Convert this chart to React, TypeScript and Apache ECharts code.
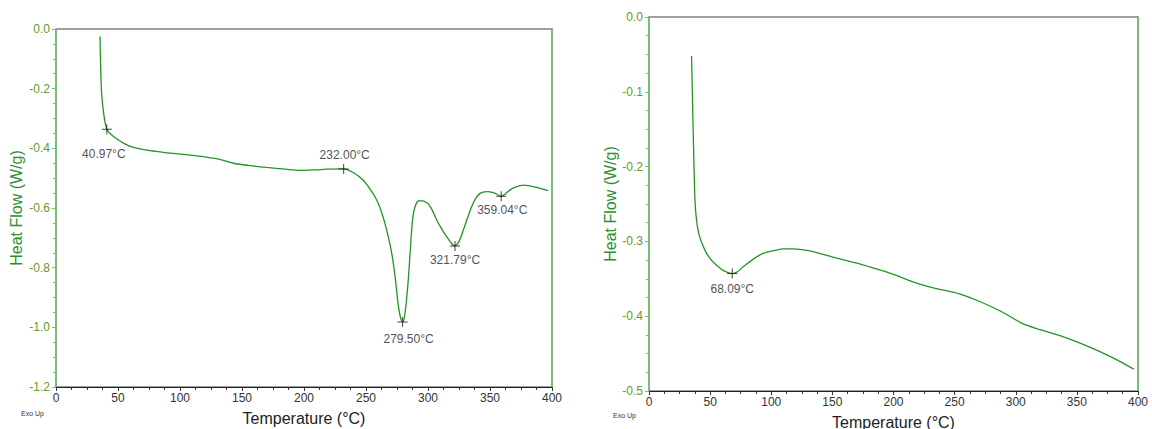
import React, { useEffect, useRef } from "react";
import * as echarts from "echarts";

// ---- Data ----
const leftCurve: [number, number][] = [
  [35.5, -0.025], [36.0, -0.126], [36.8, -0.216], [38.1, -0.271], [39.5, -0.311], [41.0, -0.336],
  [44, -0.352], [48.9, -0.368], [55, -0.384], [62.4, -0.397], [75.8, -0.408], [90, -0.415],
  [102.7, -0.42], [115, -0.426], [126.9, -0.433], [135, -0.44], [143, -0.45], [155, -0.457],
  [169.9, -0.464], [185, -0.47], [196.8, -0.474], [210, -0.472], [218.3, -0.47], [232, -0.469],
  [240, -0.482], [247.6, -0.506], [253, -0.535], [258.6, -0.573], [263, -0.62], [266.7, -0.674],
  [270, -0.735], [272, -0.784], [274, -0.85], [276, -0.925], [278, -0.97], [279.7, -0.982],
  [281, -0.965], [282.5, -0.915], [284.1, -0.841], [285.5, -0.755], [286.8, -0.674], [288, -0.625],
  [289.5, -0.596], [291.5, -0.579], [293.5, -0.575], [296.5, -0.577], [300.3, -0.586], [303.5, -0.608],
  [307, -0.64], [311, -0.67], [315, -0.696], [318.5, -0.716], [321.8, -0.727], [325, -0.712],
  [328.5, -0.674], [332, -0.632], [335.2, -0.596], [338.5, -0.568], [342, -0.551], [345.5, -0.546],
  [348.6, -0.545], [352, -0.548], [355.4, -0.553], [359.0, -0.561], [362.5, -0.552], [366, -0.54],
  [371, -0.529], [376.9, -0.523], [382, -0.526], [387.6, -0.531], [392, -0.536], [397, -0.542],
];

const rightCurve: [number, number][] = [
  [34.8, -0.052], [36.2, -0.156], [37.6, -0.245], [38.9, -0.272], [40.5, -0.288], [42.2, -0.298],
  [44.5, -0.307], [47.1, -0.316], [51, -0.325], [55.3, -0.332], [61, -0.339], [68.1, -0.343],
  [72, -0.341], [77, -0.334], [85, -0.324], [93.3, -0.316], [103, -0.312], [110, -0.31],
  [117.8, -0.31], [125, -0.311], [135, -0.314], [150.4, -0.321], [172.2, -0.33], [188.6, -0.338],
  [200, -0.344], [215.8, -0.354], [230, -0.361], [253.9, -0.37], [270, -0.38], [281, -0.388],
  [293, -0.398], [305.6, -0.41], [320, -0.418], [335.5, -0.4255], [348, -0.433], [360, -0.441],
  [375, -0.452], [387, -0.462], [396.7, -0.471],
];

const leftPeakTemps = [40.97, 232.0, 279.5, 321.79, 359.04];
const leftPeakValues = [-0.336, -0.469, -0.982, -0.727, -0.561];
const rightPeakTemps = [68.09];
const rightPeakValues = [-0.343];

const xTicks = { min: 0, max: 400, interval: 50 };
const leftYTicks = { min: -1.2, max: 0, interval: 0.2 };
const rightYTicks = { min: -0.5, max: 0, interval: 0.1 };

const xAxisTitle = "Temperature (°C)";
const yAxisTitle = "Heat Flow (W/g)";
const cornerNote = "Exo Up";

// ---- Styling / layout ----
const leftLabelOffsets: [number, number][] = [[-3, 25], [1, -14], [6, 17], [0, 14], [1, 14]];
const rightLabelOffsets: [number, number][] = [[0, 15]];

const FONT = "Liberation Sans, Arial, sans-serif";
const LINE_GREEN = "#219621";
const AXIS_GREEN = "#6cc46c";
const TICK_LABEL_GREEN = "#5f9a2a";
const NAME_GREEN = "#2d8f2d";
const CROSS = "path://M0 4.5H10V5.5H0Z M4.5 0H5.5V10H4.5Z";

function xAxisMain(grid: number) {
  return {
    type: "value",
    gridIndex: grid,
    min: xTicks.min,
    max: xTicks.max,
    interval: xTicks.interval,
    name: xAxisTitle,
    nameLocation: "middle",
    nameGap: 23,
    nameTextStyle: { fontSize: 16, color: "#222", fontFamily: FONT },
    axisLine: { show: true, onZero: false, lineStyle: { color: "#222", width: 1 } },
    axisTick: { show: true, length: 4, lineStyle: { color: "#333" } },
    minorTick: { show: true, splitNumber: 4, length: 3, lineStyle: { color: "#333" } },
    axisLabel: { color: "#333", fontSize: 12, fontFamily: FONT, margin: 5 },
    splitLine: { show: false },
  };
}

function yAxisMain(grid: number, t: { min: number; max: number; interval: number }, gap: number) {
  return {
    type: "value",
    gridIndex: grid,
    min: t.min,
    max: t.max,
    interval: t.interval,
    name: yAxisTitle,
    nameLocation: "middle",
    nameGap: gap,
    nameTextStyle: { fontSize: 16, color: NAME_GREEN, fontFamily: FONT },
    axisLine: { show: true, onZero: false, lineStyle: { color: AXIS_GREEN, width: 1.5 } },
    axisTick: { show: true, length: 4, lineStyle: { color: AXIS_GREEN } },
    minorTick: { show: true, splitNumber: 4, length: 3, lineStyle: { color: AXIS_GREEN } },
    axisLabel: {
      color: TICK_LABEL_GREEN,
      fontSize: 12,
      fontFamily: FONT,
      margin: 6,
      formatter: (v: number) => v.toFixed(1),
    },
    splitLine: { show: false },
  };
}

function yAxisRight(grid: number, t: { min: number; max: number }) {
  return {
    type: "value",
    gridIndex: grid,
    position: "right",
    min: t.min,
    max: t.max,
    axisLine: { show: true, onZero: false, lineStyle: { color: AXIS_GREEN, width: 1.5 } },
    axisTick: { show: false },
    axisLabel: { show: false },
    splitLine: { show: false },
  };
}

function peakSeries(
  temps: number[],
  values: number[],
  offsets: [number, number][],
  xi: number,
  yi: number
) {
  return {
    type: "scatter",
    xAxisIndex: xi,
    yAxisIndex: yi,
    symbol: CROSS,
    symbolSize: 10,
    itemStyle: { color: "#111" },
    z: 5,
    data: temps.map((t, i) => ({
      value: [t, values[i]],
      label: {
        show: true,
        position: "inside",
        offset: offsets[i],
        formatter: `${t.toFixed(2)}°C`,
        color: "#222",
        fontSize: 12,
        fontFamily: FONT,
      },
    })),
  };
}

export default function App() {
  const ref = useRef<HTMLDivElement>(null);
  useEffect(() => {
    if (!ref.current) return;
    const chart = echarts.init(ref.current, undefined, { renderer: "svg" });
    const gridCommon = {
      show: true,
      borderColor: "#808080",
      borderWidth: 1.5,
      backgroundColor: "transparent",
      outerBoundsMode: "none",
      containLabel: false,
    };
    chart.setOption({
      animation: false,
      backgroundColor: "#fff",
      grid: [
        { ...gridCommon, left: 56, top: 29, width: 496, height: 358 },
        { ...gridCommon, left: 649, top: 17, width: 489, height: 374 },
      ],
      xAxis: [xAxisMain(0), xAxisMain(1)],
      yAxis: [
        yAxisMain(0, leftYTicks, 32),
        yAxisRight(0, leftYTicks),
        yAxisMain(1, rightYTicks, 30),
        yAxisRight(1, rightYTicks),
      ],
      series: [
        {
          type: "line",
          xAxisIndex: 0,
          yAxisIndex: 0,
          data: leftCurve,
          smooth: 0.3,
          showSymbol: false,
          lineStyle: { color: LINE_GREEN, width: 1.3 },
        },
        {
          type: "line",
          xAxisIndex: 1,
          yAxisIndex: 2,
          data: rightCurve,
          smooth: 0.3,
          showSymbol: false,
          lineStyle: { color: LINE_GREEN, width: 1.3 },
        },
        peakSeries(leftPeakTemps, leftPeakValues, leftLabelOffsets, 0, 0),
        peakSeries(rightPeakTemps, rightPeakValues, rightLabelOffsets, 1, 2),
      ],
      graphic: [
        {
          type: "text",
          left: 21,
          top: 410,
          style: { text: cornerNote, fontSize: 7, fill: "#333", fontFamily: FONT },
        },
        {
          type: "text",
          left: 613,
          top: 412,
          style: { text: cornerNote, fontSize: 7, fill: "#333", fontFamily: FONT },
        },
      ],
    });
    return () => chart.dispose();
  }, []);
  return (
    <div
      ref={ref}
      style={{ position: "fixed", left: 0, top: 0, width: 1152, height: 429, background: "#fff" }}
    />
  );
}
